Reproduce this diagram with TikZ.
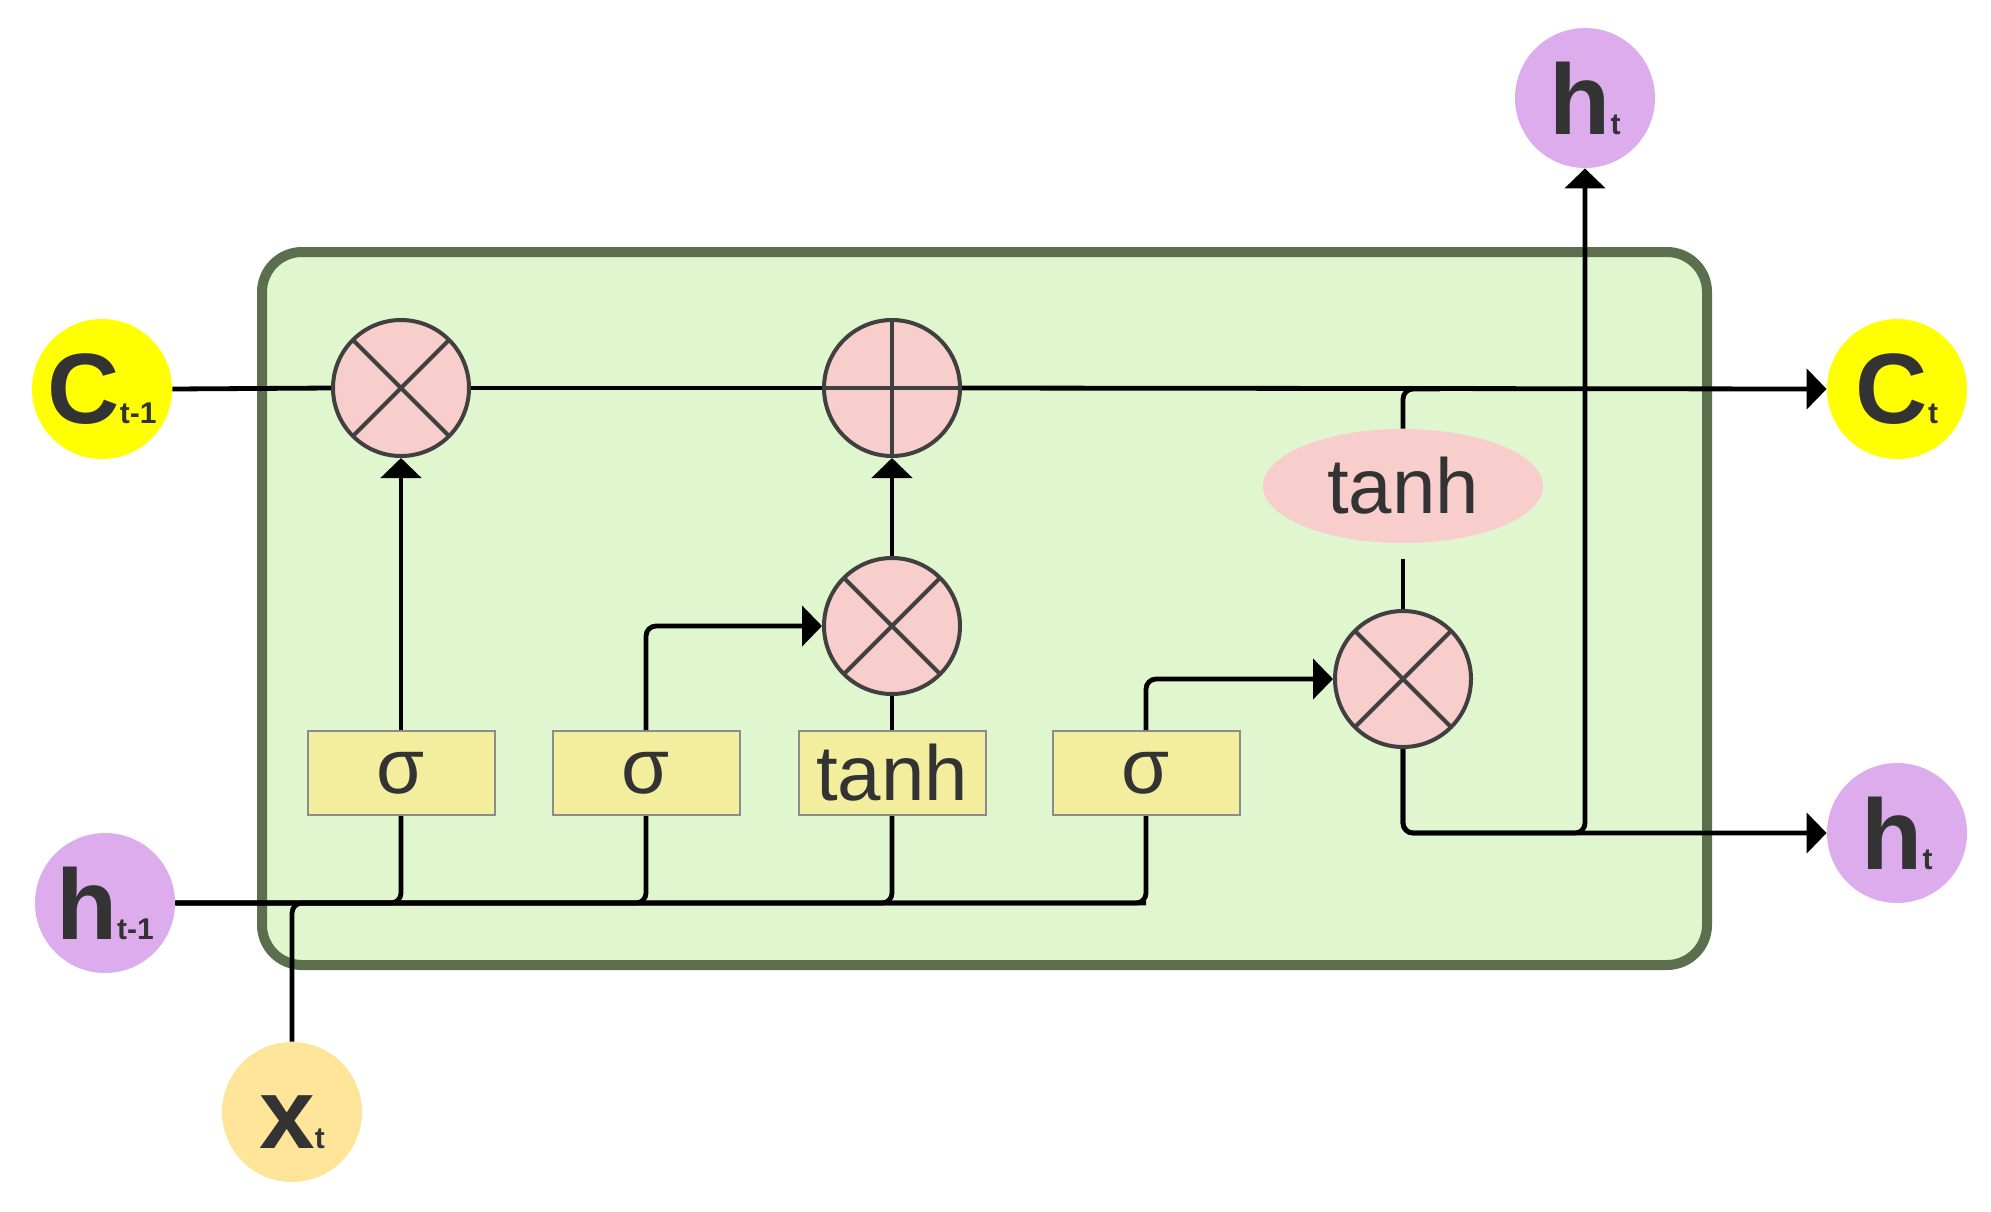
\documentclass[tikz,border=0pt]{standalone}
\usepackage{fontspec}
\setmainfont{Liberation Sans}
\usetikzlibrary{arrows.meta,shapes.geometric}
\definecolor{boxfill}{RGB}{224,246,206}
\definecolor{boxdraw}{RGB}{91,110,77}
\definecolor{pinkop}{RGB}{248,206,204}
\definecolor{opdraw}{RGB}{64,64,64}
\definecolor{gatefill}{RGB}{242,238,158}
\definecolor{gatedraw}{RGB}{140,140,140}
\definecolor{cyel}{RGB}{255,255,0}
\definecolor{hpurp}{RGB}{220,172,236}
\definecolor{xorange}{RGB}{255,229,153}
\definecolor{txt}{RGB}{51,51,51}
\begin{document}
\begin{tikzpicture}[x=0.5pt,y=-0.5pt,
  state/.style={circle, minimum size=70pt, inner sep=0pt, text=txt,
    font=\bfseries\fontsize{50}{50}\selectfont},
  opbase/.style={circle, draw=opdraw, line width=2pt, fill=pinkop, minimum size=68pt, inner sep=0pt},
  mult/.style={opbase, path picture={
    \draw[opdraw,line width=2pt]
      ([shift={(-30pt,-30pt)}]path picture bounding box.center) -- ([shift={(30pt,30pt)}]path picture bounding box.center)
      ([shift={(-30pt,30pt)}]path picture bounding box.center) -- ([shift={(30pt,-30pt)}]path picture bounding box.center);}},
  plus/.style={opbase, path picture={
    \draw[opdraw,line width=2pt]
      ([shift={(-40pt,0pt)}]path picture bounding box.center) -- ([shift={(40pt,0pt)}]path picture bounding box.center)
      ([shift={(0pt,-40pt)}]path picture bounding box.center) -- ([shift={(0pt,40pt)}]path picture bounding box.center);}},
  gate/.style={rectangle, draw=gatedraw, line width=1pt, fill=gatefill, minimum width=93.5pt,
    minimum height=42pt, inner sep=0pt, text=txt, font=\fontsize{39}{39}\selectfont},
  act/.style={ellipse, fill=pinkop, minimum width=140pt, minimum height=57pt, inner sep=0pt,
    text=txt, font=\fontsize{39}{39}\selectfont},
  conn/.style={line width=2.4pt, black, rounded corners=5pt},
  arr/.style={conn, -{Triangle[width=20pt,length=10pt]}}
]
\useasboundingbox (0,0) rectangle (1991,1211);
% cell box
\draw[fill=boxfill, draw=boxdraw, line width=5pt, rounded corners=20pt] (262,252) rectangle (1707,965);

% external states
\newcommand{\sbt}[1]{{\fontsize{15}{15}\selectfont #1}}
\node[state, fill=cyel] (Ct1) at (102,389) {C\sbt{t-1}};
\node[state, fill=hpurp] (ht1) at (105,903) {h\sbt{t-1}};
\node[state, fill=xorange] (xt) at (292,1112) {x\sbt{t}\vphantom{h}};
\node[state, fill=hpurp] (htop) at (1585,98) {h\sbt{t}};
\node[state, fill=cyel] (Ctr) at (1897,389) {C\sbt{t}};
\node[state, fill=hpurp] (htr) at (1897,833) {h\sbt{t}};

% operators
\node[mult] (m1) at (401,388) {};
\node[plus] (add) at (892,388) {};
\node[mult] (m2) at (892,626) {};
\node[mult] (m3) at (1403,679) {};
\node[act] (tanhE) at (1403,486) {tanh};

% gates
\node[gate] (s1) at (401,773) {σ};
\node[gate] (s2) at (646,773) {σ};
\node[gate] (tg) at (892,773) {tanh};
\node[gate] (s3) at (1146,773) {σ};

\coordinate (busend) at (1146,903);
\coordinate (tj) at (1440,389);
\coordinate (hj) at (1585,833);

% cell state line
\draw[conn] (Ct1.east) -- (m1.west);
\draw[conn] (m1.east) -- (add.west);
\draw[arr] (add.east) -- (Ctr.west);

% input bus
\draw[conn] (ht1.east) -| (s1.south);
\draw[conn] (ht1.east) -| (s2.south);
\draw[conn] (ht1.east) -| (tg.south);
\draw[conn] (ht1.east) -| (s3.south);
\draw[conn] (xt.north) |- (busend);

% gates to operators
\draw[arr] (s1.north) -- (m1.south);
\draw[arr] (s2.north) |- (m2.west);
\draw[conn] (tg.north) -- (m2.south);
\draw[arr] (m2.north) -- (add.south);
\draw[arr] (s3.north) |- (m3.west);

% output
\draw[conn] (tj) -| (tanhE.north);
\draw[conn] ([yshift=-8pt]tanhE.south) -- (m3.north);
\draw[arr] (m3.south) |- (htr.west);
\draw[arr] (m3.south) |- (hj) -- (htop.south);
\end{tikzpicture}
\end{document}
